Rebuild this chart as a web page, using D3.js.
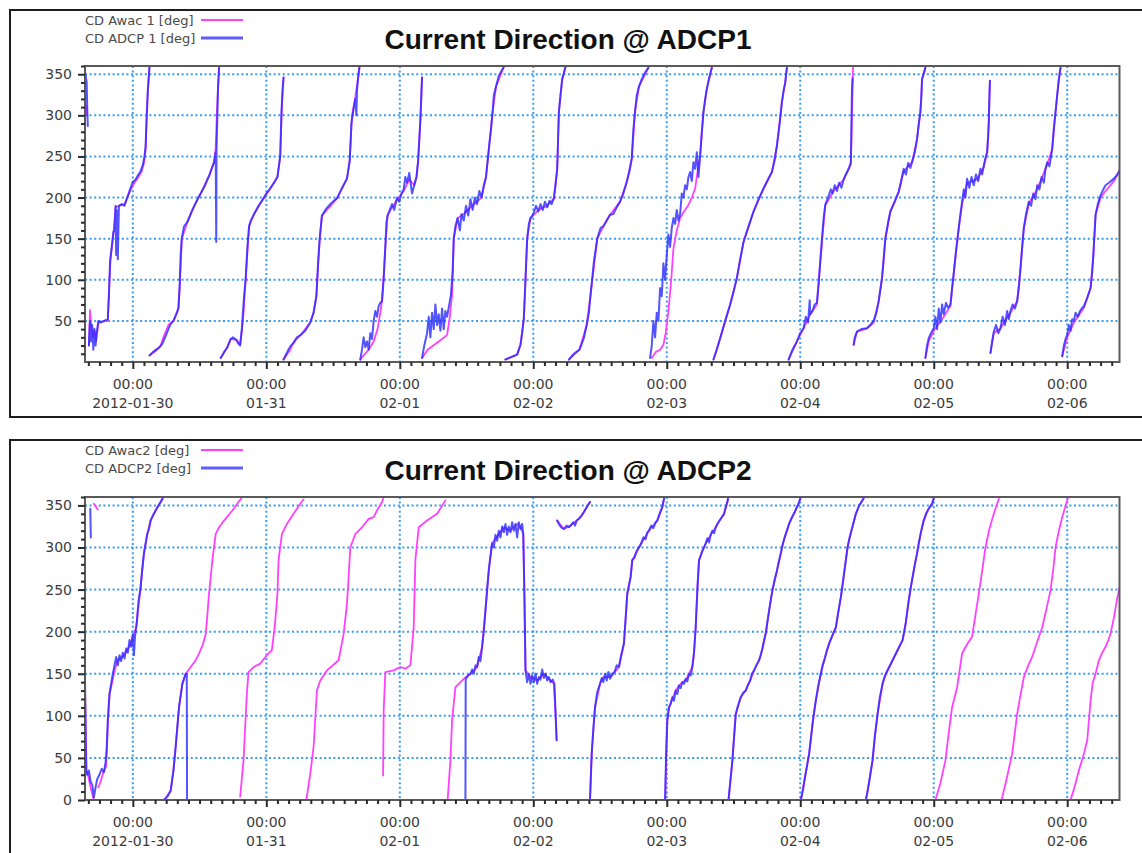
<!DOCTYPE html>
<html><head><meta charset="utf-8">
<script src="https://cdn.jsdelivr.net/npm/d3@7"></script>
<style>body{margin:0;background:#fff;} svg{display:block;}</style>
</head><body>
<svg id="chart" width="1142" height="853"></svg>
<script>
// ---------- data (time = hours after 2012-01-30 00:00, value = degrees) ----------
const dayLabels = ["2012-01-30","01-31","02-01","02-02","02-03","02-04","02-05","02-06"];
const timeLabel = "00:00";
const yTicksTop = [50,100,150,200,250,300,350];
const yTicksBottom = [0,50,100,150,200,250,300,350];
const titles = ["Current Direction @ ADCP1","Current Direction @ ADCP2"];
const legendTop = ["CD Awac 1 [deg]","CD ADCP 1 [deg]"];
const legendBottom = ["CD Awac2 [deg]","CD ADCP2 [deg]"];

const awac1 = [
 [-8.4,312],[-8.2,300],null,
 [-7.9,20],[-7.7,63],[-7.5,45],[-7.2,30],[-6.9,38],[-6.6,25],[-6.2,48],[-5.5,49],[-4.5,50],[-4.3,85],[-4.0,125],[-3.5,155],[-3.1,188],[-2.5,190],[-1.5,192],[-1.0,200],[0,215],[1.0,225],[1.6,232],[2.0,242],[2.3,258],[2.5,300],[2.7,330],[2.9,350],[3.0,360],null,
 [3.0,8],[4.2,14],[5.0,20],[5.5,30],[6.4,45],[7.3,50],[8.2,64],[8.5,100],[8.8,150],[9.8,170],[11.2,192],[12.2,205],[13.8,228],[14.6,243],[14.9,260],[15.1,300],[15.3,330],[15.5,358],null,
 [15.8,5],[17.0,18],[17.6,28],[18.6,27],[19.3,22],[19.8,50],[20.3,102],[20.9,165],[21.8,180],[23.5,199],[24.6,210],[26.0,225],[26.5,250],[26.8,310],[27.1,346],null,
 [27.1,3],[28.3,15],[29.0,25],[30.2,33],[31.9,48],[32.5,60],[33.0,80],[33.6,150],[34.0,178],[36.7,199],[38.5,223],[39.0,245],[39.4,300],[40.0,322],[40.5,345],[40.8,359],null,
 [40.9,3],[41.5,8],[42.4,15],[43.3,25],[44.0,40],[44.5,60],[44.8,74],[45.4,140],[45.8,178],[46.6,188],[47.5,197],[48.7,208],[49.7,222],[50.6,215],[51.0,225],[51.3,245],[51.7,294],[52.0,346],null,
 [52.0,5],[53.0,15],[54.0,20],[55.0,25],[56.0,30],[56.5,33],[57.0,55],[57.4,82],[57.7,150],[58.4,175],[59.5,180],[60.7,188],[61.9,195],[62.7,200],[63.5,225],[64.1,265],[64.7,305],[65.3,335],[66.7,359],null,
 [67.0,3],[69.1,9],[69.7,21],[70.3,53],[70.9,150],[71.5,175],[73.0,185],[74.5,190],[75.7,199],[76.3,235],[76.6,304],[77.2,344],[77.8,359],null,
 [78.4,3],[80.3,15],[81.6,45],[82.3,82],[83.5,150],[84.6,165],[85.8,179],[87.6,195],[88.8,219],[89.7,247],[90.3,305],[91.0,335],[92.7,358],null,
 [93.3,5],[94.0,12],[94.8,15],[95.4,21],[95.8,35],[96.3,62],[96.8,100],[97.2,138],[97.8,160],[98.4,175],[99.1,183],[99.9,191],[100.5,200],[101.1,211],[101.5,230],[102.0,251],[102.6,304],[103.2,332],[104.1,358],null,
 [104.4,3],[105.6,29],[107.4,70],[108.6,102],[109.8,146],[111.6,183],[113.4,211],[114.9,231],[115.8,263],[116.7,316],[117.3,340],[117.6,358],null,
 [117.9,3],[119.4,25],[120.6,41],[121.8,58],[123.0,70],[123.6,122],[124.5,191],[126.0,208],[127.8,222],[129.1,240],[129.3,300],[129.5,359],null,
 [129.6,21],[130.2,37],[132.0,41],[133.2,48],[134.1,74],[134.7,102],[135.3,150],[136.2,183],[137.7,207],[138.6,232],[140.1,243],[141.0,271],[141.6,304],[141.9,344],[142.5,358],null,
 [142.5,5],[143.1,25],[144.0,38],[145.8,55],[147.0,68],[147.6,108],[148.5,163],[149.1,192],[150.0,218],[151.8,222],[153.0,237],[153.6,255],[153.9,292],[154.1,342],null,
 [154.2,11],[154.8,35],[156.0,41],[157.8,60],[159.0,74],[159.6,114],[160.2,163],[161.1,193],[162.6,210],[164.4,240],[165.3,259],[165.9,304],[166.5,344],[166.8,358],null,
 [167.1,7],[168.0,30],[169.2,48],[171.0,66],[172.2,90],[172.7,130],[173.1,179],[174.0,200],[174.9,208],[176.4,220],[177.6,235]
];

const adcp1 = [
 [-8.5,350],[-8.3,340],[-8.2,310],[-8.1,287],null,
 [-7.9,20],[-7.7,50],[-7.5,25],[-7.3,45],[-7.1,15],[-6.9,40],[-6.7,20],[-6.5,35],[-6.2,50],[-5.8,48],[-5.2,50],[-4.5,52],[-4.3,80],[-4.1,122],[-3.8,140],[-3.5,158],[-3.3,160],[-3.1,190],[-3.0,130],[-2.9,185],[-2.7,125],[-2.5,190],[-2.0,192],[-1.5,190],[-1.0,200],[-0.5,210],[0,219],[0.5,222],[1.0,228],[1.4,232],[1.8,240],[2.1,250],[2.3,263],[2.5,300],[2.7,330],[2.9,350],[3.0,360],null,
 [3.0,8],[3.6,12],[4.2,15],[4.8,18],[5.3,22],[5.8,30],[6.4,40],[6.8,46],[7.3,50],[7.8,58],[8.2,66],[8.4,90],[8.6,130],[8.8,150],[9.2,165],[9.8,170],[10.5,182],[11.2,192],[11.8,200],[12.2,205],[13.0,215],[13.8,228],[14.6,243],[14.9,255],[15.0,146],[15.05,260],[15.2,300],[15.3,330],[15.5,358],null,
 [15.8,5],[16.4,12],[17.0,18],[17.6,28],[18.0,30],[18.6,27],[19.0,22],[19.3,20],[19.6,40],[20.0,80],[20.3,102],[20.6,140],[20.9,165],[21.2,172],[21.8,180],[22.6,190],[23.5,199],[24.0,205],[24.6,210],[25.4,218],[26.0,225],[26.5,250],[26.7,300],[26.9,330],[27.1,346],null,
 [27.1,3],[27.6,10],[28.3,19],[29.0,24],[29.5,30],[30.2,33],[31.0,38],[31.9,48],[32.5,60],[33.0,80],[33.3,120],[33.6,150],[34.0,178],[34.6,185],[35.5,192],[36.3,197],[36.7,199],[37.5,210],[38.5,223],[39.0,245],[39.3,290],[39.6,304],[40.0,320],[40.2,300],[40.3,330],[40.5,345],[40.7,358],null,
 [40.9,3],[41.2,15],[41.5,30],[41.8,18],[42.1,25],[42.4,15],[42.7,35],[43.0,28],[43.3,50],[43.6,62],[43.9,55],[44.2,68],[44.5,72],[44.8,74],[45.1,100],[45.4,140],[45.6,170],[45.8,178],[46.2,185],[46.6,192],[47.0,185],[47.5,200],[47.9,195],[48.3,205],[48.7,210],[49.0,225],[49.3,218],[49.7,230],[50.2,205],[50.6,215],[51.0,225],[51.3,245],[51.5,270],[51.7,294],[51.9,330],[52.0,346],null,
 [52.0,5],[52.4,20],[52.9,35],[53.2,55],[53.5,30],[53.8,60],[54.1,40],[54.4,70],[54.7,45],[55.0,58],[55.3,38],[55.6,65],[55.9,40],[56.2,62],[56.5,55],[56.9,70],[57.2,82],[57.5,110],[57.7,150],[58.0,165],[58.4,175],[58.8,160],[59.1,180],[59.5,172],[59.9,190],[60.3,178],[60.7,198],[61.1,185],[61.5,200],[61.9,192],[62.3,208],[62.7,200],[63.1,215],[63.5,225],[63.8,245],[64.1,265],[64.4,283],[64.7,305],[64.9,324],[65.3,335],[65.8,348],[66.7,359],null,
 [67.0,3],[68.0,6],[69.1,9],[69.7,21],[70.0,35],[70.3,53],[70.6,100],[70.9,150],[71.2,168],[71.5,175],[72.0,180],[72.5,190],[72.9,183],[73.3,192],[73.7,185],[74.1,195],[74.5,188],[74.9,196],[75.3,192],[75.7,199],[76.0,215],[76.3,235],[76.5,280],[76.6,304],[76.9,325],[77.2,344],[77.8,359],null,
 [78.4,3],[79.3,10],[80.3,15],[81.1,29],[81.6,45],[82.0,60],[82.3,82],[82.9,122],[83.5,150],[84.1,163],[84.6,165],[85.2,172],[85.8,179],[86.4,180],[87.0,188],[87.6,195],[88.2,205],[88.8,219],[89.3,232],[89.7,247],[90.0,283],[90.3,305],[90.6,324],[91.0,335],[91.5,344],[92.1,352],[92.7,358],null,
 [93.0,5],[93.3,20],[93.6,50],[93.9,30],[94.2,60],[94.5,50],[94.8,90],[95.1,80],[95.4,120],[95.7,100],[96.0,130],[96.3,155],[96.6,140],[96.9,163],[97.2,175],[97.5,168],[97.8,185],[98.1,172],[98.4,180],[98.7,205],[99.0,200],[99.3,215],[99.6,210],[99.9,225],[100.2,231],[100.5,220],[100.8,243],[101.1,235],[101.4,255],[101.7,225],[102.0,251],[102.3,280],[102.6,304],[102.9,320],[103.2,332],[103.6,345],[104.1,358],null,
 [104.4,3],[105.0,15],[105.6,29],[106.5,50],[107.4,70],[108.0,85],[108.6,102],[109.2,125],[109.8,146],[110.7,165],[111.6,183],[112.5,198],[113.4,211],[114.2,222],[114.9,231],[115.4,245],[115.8,263],[116.3,290],[116.7,316],[117.0,330],[117.3,340],[117.6,358],null,
 [117.9,3],[118.6,15],[119.4,25],[120.0,35],[120.6,41],[121.0,55],[121.4,48],[121.7,75],[121.8,58],[122.2,62],[122.6,70],[123.0,72],[123.3,95],[123.6,122],[123.9,150],[124.2,175],[124.5,191],[125.0,200],[125.5,210],[125.8,205],[126.2,215],[126.6,208],[127.0,218],[127.4,212],[127.8,222],[128.2,228],[128.7,235],[129.1,243],[129.2,290],[129.3,332],[129.4,345],null,
 [129.6,21],[129.8,30],[130.2,37],[131.0,40],[132.0,41],[132.6,45],[133.2,50],[133.7,60],[134.1,74],[134.4,88],[134.7,102],[135.0,125],[135.3,150],[135.8,170],[136.2,183],[137.0,195],[137.7,207],[138.2,222],[138.6,235],[139.0,228],[139.4,242],[139.8,236],[140.1,243],[140.6,255],[141.0,271],[141.3,290],[141.6,304],[141.8,325],[141.9,344],[142.5,358],null,
 [142.5,5],[142.8,20],[143.1,29],[143.5,35],[144.0,41],[144.3,55],[144.6,40],[144.9,65],[145.2,48],[145.5,70],[145.8,58],[146.2,72],[146.6,66],[147.0,70],[147.3,90],[147.6,108],[148.0,135],[148.5,163],[148.8,180],[149.1,195],[149.4,210],[149.7,200],[150.0,223],[150.4,212],[150.8,225],[151.2,215],[151.6,228],[152.0,220],[152.4,235],[152.7,228],[153.0,239],[153.3,248],[153.6,255],[153.8,275],[153.9,292],[154.0,320],[154.1,342],null,
 [154.2,11],[154.5,25],[154.8,37],[155.2,45],[155.6,35],[156.0,41],[156.4,55],[156.8,45],[157.2,62],[157.5,52],[157.8,62],[158.2,70],[158.6,65],[159.0,74],[159.3,90],[159.6,114],[159.9,140],[160.2,163],[160.6,180],[161.1,195],[161.5,190],[161.9,205],[162.3,198],[162.6,215],[163.0,210],[163.4,225],[163.8,218],[164.1,235],[164.4,243],[164.8,238],[165.1,250],[165.3,259],[165.6,285],[165.9,304],[166.2,325],[166.5,344],[166.8,358],null,
 [167.1,7],[167.4,20],[167.7,28],[168.0,33],[168.3,45],[168.6,38],[168.9,52],[169.2,50],[169.5,60],[169.9,55],[170.3,62],[170.7,66],[171.0,68],[171.6,78],[172.2,90],[172.5,110],[172.7,130],[172.9,155],[173.1,179],[173.5,192],[174.0,203],[174.5,210],[174.9,215],[175.5,218],[176.4,223],[177.0,228],[177.6,235]
];

const awac2 = [
 [-8.6,140],[-8.45,75],[-8.3,35],[-8.0,28],[-7.6,15],[-7.1,2],null,
 [-7.0,352],[-6.6,348],[-6.3,345],null,
 [-6.2,15],[-5.8,22],[-5.3,33],[-4.8,40],[-4.5,90],[-4.2,125],[-3.4,150],[-2.8,165],[-1.6,172],[-0.4,185],[0,195],[0.6,205],[1.4,253],[2.0,293],[2.6,316],[3.2,332],[4.1,344],[5.0,354],[5.4,358],null,
 [5.6,0],[6.2,5],[6.8,11],[7.3,35],[7.7,63],[8.3,110],[8.9,138],[9.5,150],[10.4,158],[11.2,165],[11.9,174],[12.6,185],[13.1,197],[13.4,220],[13.7,245],[14.3,285],[14.9,316],[15.6,325],[16.4,332],[17.9,344],[19.0,354],[19.5,358],null,
 [19.3,4],[19.9,47],[20.2,87],[20.5,126],[20.8,152],[21.7,158],[22.9,162],[24.1,172],[25.0,178],[25.5,205],[26.0,245],[26.2,285],[26.8,316],[27.7,328],[28.9,340],[30.1,352],[30.7,357],null,
 [31.2,0],[31.9,31],[32.5,63],[33.1,130],[33.7,142],[34.9,154],[37.0,166],[37.9,197],[38.5,233],[38.8,265],[39.1,300],[40.0,316],[41.2,324],[42.4,334],[43.3,336],[43.9,344],[44.8,354],[45.0,358],null,
 [45.0,29],[45.1,106],[45.4,152],[46.9,154],[48.1,158],[49.0,156],[49.9,160],[50.5,205],[50.8,285],[51.4,324],[52.9,332],[54.7,340],[56.2,356],null,
 [56.6,0],[57.1,47],[57.4,95],[58.0,134],[59.5,144],[60.7,150],[61.9,158],[62.8,182],[63.4,225],[64.0,273],[64.6,305],[65.8,316],[66.7,324],[67.9,320],[69.1,328],[69.7,324],[70.2,316],[70.4,245],[70.6,154],[71.5,146],[72.7,142],[73.9,150],[75.1,142],[75.7,138],[76.0,103],[76.2,71],null,
 [76.3,332],[77.5,322],[78.7,326],[79.8,332],[80.7,338],[81.6,348],[82.2,354],null,
 [82.2,0],[82.5,55],[83.1,110],[84.0,138],[84.6,146],[85.4,146],[86.2,148],[87.4,158],[88.3,186],[88.9,245],[89.5,265],[89.8,285],[91.0,300],[92.8,320],[94.3,332],[95.2,348],[95.5,358],null,
 [95.7,0],[96.1,95],[96.4,110],[97.0,120],[97.6,130],[98.2,136],[98.8,140],[99.4,142],[100.0,150],[100.6,158],[100.9,175],[101.2,205],[101.5,250],[101.8,285],[102.4,296],[103.0,305],[103.9,315],[104.8,324],[105.5,332],[106.3,340],[106.9,354],[107.0,358],null,
 [107.1,0],[107.8,47],[108.4,102],[109.3,122],[110.2,130],[111.0,142],[111.7,154],[112.6,166],[113.2,180],[113.8,198],[114.4,225],[115.0,249],[115.8,272],[116.5,293],[117.2,312],[118.0,328],[119.0,342],[119.8,354],[120.0,358],null,
 [120.1,0],[120.8,25],[121.6,55],[122.2,90],[122.8,118],[123.7,150],[124.4,168],[125.2,186],[126.4,205],[127.3,241],[127.9,270],[128.5,300],[129.2,320],[130.0,340],[130.6,350],[131.2,356],[131.5,360],null,
 [131.8,0],[132.4,22],[133.0,47],[133.4,75],[133.9,102],[134.8,138],[135.4,150],[136.0,158],[137.2,174],[138.4,190],[139.0,212],[139.5,237],[140.2,265],[141.0,293],[141.6,315],[142.2,332],[143.0,345],[143.7,352],[144.0,358],null,
 [144.3,0],[145.2,20],[146.1,47],[146.7,80],[147.3,110],[148.2,134],[149.1,174],[150.0,185],[150.9,194],[151.5,220],[152.1,245],[152.7,272],[153.3,300],[154.0,322],[154.8,340],[155.7,358],null,
 [156.2,0],[157.1,25],[158.1,55],[159.0,102],[159.6,125],[160.2,146],[161.0,160],[161.7,170],[162.6,188],[163.5,205],[164.3,228],[165.0,249],[165.5,275],[165.9,300],[166.5,320],[167.1,336],[168.0,356],[168.2,360],null,
 [168.6,0],[169.3,15],[170.1,35],[171.0,55],[171.6,71],[172.2,118],[172.6,140],[173.1,150],[173.7,166],[174.3,175],[174.9,182],[175.4,190],[175.8,198],[176.4,217],[177.0,240],[177.4,252]
];

const adcp2 = [
 [-7.65,346],[-7.55,312],null,
 [-8.6,140],[-8.5,90],[-8.4,35],[-8.2,30],[-7.9,35],[-7.6,22],[-7.3,18],[-7.0,3],[-6.7,15],[-6.4,25],[-6.0,30],[-5.6,37],[-5.2,33],[-4.9,45],[-4.7,60],[-4.5,95],[-4.2,126],[-3.9,138],[-3.6,150],[-3.3,160],[-3.0,170],[-2.7,160],[-2.4,172],[-2.1,165],[-1.8,175],[-1.5,168],[-1.2,180],[-0.9,175],[-0.6,190],[-0.3,182],[0,197],[0.2,172],[0.4,195],[0.7,210],[1.0,235],[1.4,253],[1.7,275],[2.0,293],[2.3,305],[2.6,316],[2.9,322],[3.2,332],[3.6,338],[4.1,344],[4.6,350],[5.0,354],[5.3,358],null,
 [5.6,0],[6.2,4],[6.8,11],[7.3,35],[7.7,63],[8.3,110],[8.9,138],[9.5,150],[9.7,150],[9.75,0],null,
 [59.8,0],[59.85,144],[60.3,148],[60.7,150],[61.0,155],[61.3,150],[61.6,160],[61.9,158],[62.2,170],[62.5,165],[62.8,182],[63.1,200],[63.4,225],[63.7,250],[64.0,273],[64.3,290],[64.6,305],[64.9,300],[65.2,315],[65.5,308],[65.8,320],[66.1,312],[66.4,325],[66.7,318],[67.0,328],[67.3,315],[67.6,325],[67.9,318],[68.2,330],[68.5,320],[68.8,328],[69.1,312],[69.4,330],[69.7,322],[70.0,328],[70.2,316],[70.4,245],[70.6,154],[70.9,140],[71.2,150],[71.5,138],[71.8,148],[72.1,140],[72.4,150],[72.7,138],[73.0,146],[73.3,143],[73.6,155],[73.9,145],[74.2,150],[74.5,142],[74.8,146],[75.1,140],[75.5,143],[75.8,138],[76.0,105],[76.2,71],null,
 [76.3,332],[76.6,328],[77.0,324],[77.5,322],[78.0,326],[78.4,324],[78.7,326],[79.2,330],[79.5,326],[79.8,332],[80.2,334],[80.7,338],[81.2,343],[81.6,348],[82.2,354],null,
 [82.2,0],[82.5,55],[82.8,85],[83.1,110],[83.5,128],[84.0,138],[84.3,145],[84.6,140],[84.9,150],[85.2,142],[85.5,152],[85.8,144],[86.2,150],[86.6,152],[87.0,160],[87.4,158],[87.8,172],[88.3,186],[88.6,215],[88.9,245],[89.2,255],[89.5,265],[89.8,285],[90.2,288],[90.6,296],[91.0,300],[91.4,305],[91.8,312],[92.2,310],[92.5,318],[92.8,320],[93.2,326],[93.6,323],[94.0,330],[94.3,332],[94.7,340],[95.2,348],[95.5,358],null,
 [95.7,0],[95.9,60],[96.1,95],[96.4,110],[96.7,114],[97.0,122],[97.3,118],[97.6,130],[97.9,126],[98.2,136],[98.5,133],[98.8,140],[99.1,138],[99.4,144],[99.7,141],[100.0,150],[100.3,148],[100.6,158],[100.9,175],[101.2,205],[101.5,250],[101.8,285],[102.1,290],[102.4,296],[102.7,300],[103.0,305],[103.3,311],[103.6,306],[103.9,315],[104.2,320],[104.5,317],[104.8,324],[105.1,328],[105.5,332],[105.9,336],[106.3,340],[106.6,348],[106.9,354],[107.0,358],null,
 [107.1,0],[107.4,20],[107.8,47],[108.1,75],[108.4,102],[108.8,112],[109.3,122],[109.7,127],[110.2,130],[110.6,137],[111.0,142],[111.3,150],[111.7,154],[112.1,160],[112.6,166],[112.9,172],[113.2,180],[113.5,190],[113.8,198],[114.1,212],[114.4,225],[114.7,238],[115.0,249],[115.4,262],[115.8,272],[116.1,282],[116.5,293],[116.8,303],[117.2,312],[117.6,320],[118.0,328],[118.5,336],[119.0,342],[119.4,348],[119.8,354],[120.0,358],null,
 [120.1,0],[120.5,12],[120.8,25],[121.2,40],[121.6,55],[121.9,72],[122.2,90],[122.5,105],[122.8,118],[123.2,135],[123.7,150],[124.0,160],[124.4,168],[124.8,178],[125.2,186],[125.8,196],[126.4,205],[126.8,222],[127.3,241],[127.6,255],[127.9,270],[128.2,285],[128.5,300],[128.8,310],[129.2,320],[129.6,330],[130.0,340],[130.6,350],[131.2,356],[131.5,360],null,
 [131.8,0],[132.1,10],[132.4,22],[132.7,35],[133.0,47],[133.4,75],[133.9,102],[134.3,122],[134.8,138],[135.1,145],[135.4,150],[136.0,158],[136.6,166],[137.2,174],[137.8,182],[138.4,190],[138.7,200],[139.0,212],[139.5,237],[139.8,250],[140.2,265],[140.6,280],[141.0,293],[141.3,305],[141.6,315],[141.9,324],[142.2,332],[142.6,340],[143.0,345],[143.7,352],[144.0,358]
];

// ---------- chart ----------
const svg = d3.select("#chart");
const base = Date.UTC(2012, 0, 30);
const toDate = h => new Date(base + h * 3600e3);
const hStart = -8.6, hEnd = 177.4;
const plotLeft = 85, plotRight = 1119.5;

const panels = [
  { frameTop: 10, frameBottom: 417, top: 66, bottom: 362, yTicks: yTicksTop, title: titles[0], legend: legendTop,
    awac: awac1, adcp: adcp1, legendY: [20, 38], titleY: 49 },
  { frameTop: 440, frameBottom: 870, top: 497, bottom: 800, yTicks: yTicksBottom, title: titles[1], legend: legendBottom,
    awac: awac2, adcp: adcp2, legendY: [450, 468], titleY: 480 }
];

const x = d3.scaleUtc().domain([toDate(hStart), toDate(hEnd)]).range([plotLeft, plotRight]);
const days = d3.utcDay.range(toDate(0), toDate(hEnd));
const hours2 = d3.utcHour.every(2).range(toDate(hStart), toDate(hEnd)).filter(d => d.getUTCHours() !== 0);

const gridColor = "#3a9cf0";
const textColor = "#3b3b3b";
const pink = "#ff40ff";
const blue = "rgba(40,40,255,0.8)";

panels.forEach((p, i) => {
  const g = svg.append("g");
  const y = d3.scaleLinear().domain([0, 360]).range([p.bottom, p.top]);

  // outer frame
  g.append("rect").attr("x", 10).attr("y", p.frameTop).attr("width", 1200).attr("height", p.frameBottom - p.frameTop)
    .attr("fill", "#fff").attr("stroke", "#1e1e1e").attr("stroke-width", 2);

  // grid
  const grid = g.append("g").attr("stroke", gridColor).attr("stroke-width", 2).attr("stroke-dasharray", "2,2.6");
  grid.selectAll("line.h").data(p.yTicks.filter(v => v > 0)).join("line")
    .attr("x1", plotLeft).attr("x2", plotRight).attr("y1", d => y(d)).attr("y2", d => y(d));
  grid.selectAll("line.v").data(days).join("line")
    .attr("x1", d => x(d)).attr("x2", d => x(d)).attr("y1", p.top).attr("y2", p.bottom);

  // clip
  const clipId = "clip" + i;
  svg.append("clipPath").attr("id", clipId).append("rect")
    .attr("x", plotLeft).attr("y", p.top).attr("width", plotRight - plotLeft).attr("height", p.bottom - p.top);

  const line = d3.line().defined(d => d !== null).x(d => x(toDate(d[0]))).y(d => y(d[1]));
  const lines = g.append("g").attr("clip-path", `url(#${clipId})`).attr("fill", "none")
    .attr("stroke-linejoin", "round").attr("stroke-linecap", "round");
  lines.append("path").datum(p.awac).attr("d", line).attr("stroke", pink).attr("stroke-width", 1.8);
  lines.append("path").datum(p.adcp).attr("d", line).attr("stroke", blue).attr("stroke-width", 2);

  // plot border
  g.append("rect").attr("x", plotLeft).attr("y", p.top).attr("width", plotRight - plotLeft).attr("height", p.bottom - p.top)
    .attr("fill", "none").attr("stroke", "#5a5a5a").attr("stroke-width", 2);

  // y axis
  const yMinor = d3.range(10, 361, 10).filter(v => v % 50 !== 0);
  const ya = g.append("g").attr("transform", `translate(${plotLeft},0)`)
    .call(d3.axisLeft(y).tickValues(p.yTicks).tickSize(7).tickPadding(6));
  ya.select(".domain").remove();
  ya.selectAll(".tick line").attr("stroke", "#2a2a2a").attr("stroke-width", 2);
  ya.selectAll(".tick text").attr("fill", textColor).attr("font-family", "DejaVu Sans").attr("font-size", 14);
  const yam = g.append("g").attr("transform", `translate(${plotLeft},0)`)
    .call(d3.axisLeft(y).tickValues(yMinor).tickSize(4).tickFormat(""));
  yam.select(".domain").remove();
  yam.selectAll(".tick line").attr("stroke", "#2a2a2a").attr("stroke-width", 2);

  // x axis
  const xa = g.append("g").attr("transform", `translate(0,${p.bottom})`)
    .call(d3.axisBottom(x).tickValues(days).tickSize(7).tickFormat(""));
  xa.select(".domain").remove();
  xa.selectAll(".tick line").attr("stroke", "#2a2a2a").attr("stroke-width", 2);
  const xam = g.append("g").attr("transform", `translate(0,${p.bottom})`)
    .call(d3.axisBottom(x).tickValues(hours2).tickSize(4).tickFormat(""));
  xam.select(".domain").remove();
  xam.selectAll(".tick line").attr("stroke", "#2a2a2a").attr("stroke-width", 2);

  const xl = g.append("g").attr("fill", textColor).attr("font-family", "DejaVu Sans").attr("font-size", 14)
    .attr("text-anchor", "middle");
  xl.selectAll("text").data(days).join("text")
    .attr("transform", d => `translate(${x(d)},${p.bottom + 27})`)
    .call(t => {
      t.append("tspan").attr("x", 0).attr("y", 0).text(timeLabel);
      t.append("tspan").attr("x", 0).attr("y", 19).text((d, k) => dayLabels[k]);
    });

  // title
  g.append("text").attr("x", 568).attr("y", p.titleY).attr("text-anchor", "middle")
    .attr("font-family", "Liberation Sans, Arial, sans-serif").attr("font-weight", "bold").attr("font-size", 28)
    .attr("fill", "#111").text(p.title);

  // legend
  const lg = g.append("g").attr("font-family", "DejaVu Sans").attr("font-size", 13).attr("fill", "#4a4a4a");
  [pink, "rgba(40,40,255,0.75)"].forEach((c, k) => {
    lg.append("text").attr("x", 85).attr("y", p.legendY[k] + 5).text(p.legend[k]);
    lg.append("line").attr("x1", 201).attr("x2", 243).attr("y1", p.legendY[k]).attr("y2", p.legendY[k])
      .attr("stroke", c).attr("stroke-width", k === 0 ? 2 : 3);
  });
});
</script>
</body></html>
